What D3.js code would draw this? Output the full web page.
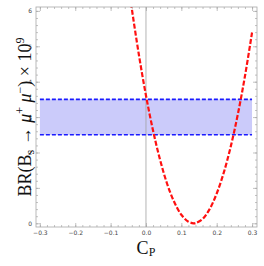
<!DOCTYPE html>
<html>
<head>
<meta charset="utf-8">
<script src="https://cdn.jsdelivr.net/npm/d3@7"></script>
<style>
  body { margin: 0; background: #fff; }
  svg { display: block; }
  .tick text { font-family: "DejaVu Sans", sans-serif; font-size: 6px; fill: #444; }
</style>
</head>
<body>
<div id="chart"></div>
<script>
// ---------------- data ----------------
var cpValues = [-0.045, -0.04, -0.02, 0.0, 0.02, 0.04, 0.06, 0.08, 0.10, 0.12, 0.135, 0.14, 0.16, 0.18, 0.20, 0.22, 0.24, 0.26, 0.28, 0.30];
var brValues = [6.42, 6.06, 4.76, 3.61, 2.62, 1.79, 1.11, 0.60, 0.24, 0.045, 0.0, 0.005, 0.12, 0.40, 0.84, 1.43, 2.18, 3.09, 4.16, 5.39];
var bandRange = [2.5, 3.5];
var bandCp = [-0.3, 0.3];
var xTicks = [-0.3, -0.2, -0.1, 0.0, 0.1, 0.2, 0.3];
var yTicks = [0, 1, 2, 3, 4, 5, 6];

//------------------------- SVG ------------------------------//
const width = 264;
const height = 266;
const pLeft = 36, pRight = 257, pTop = 7, pBottom = 227;

const svg = d3.select("#chart").append("svg")
    .attr("width", width)
    .attr("height", height);

const xScale = d3.scaleLinear().domain([-0.311, 0.314]).range([pLeft, pRight]);
const yScale = d3.scaleLinear().domain([-0.105, 6.11]).range([pBottom, pTop]);

svg.append("defs").append("clipPath").attr("id", "plot")
    .append("rect")
    .attr("x", pLeft).attr("y", pTop)
    .attr("width", pRight - pLeft).attr("height", pBottom - pTop);

const plot = svg.append("g").attr("clip-path", "url(#plot)");

//------------------------- BAND -----------------------------//
plot.append("rect")
    .attr("x", xScale(bandCp[0]))
    .attr("y", yScale(bandRange[1]))
    .attr("width", xScale(bandCp[1]) - xScale(bandCp[0]))
    .attr("height", yScale(bandRange[0]) - yScale(bandRange[1]))
    .attr("fill", "#cbcbfa");

// vertical axis line at C_P = 0
plot.append("line")
    .attr("x1", xScale(0)).attr("x2", xScale(0))
    .attr("y1", pTop).attr("y2", pBottom)
    .attr("stroke", "#a0a0a0")
    .attr("stroke-width", 0.8);

bandRange.forEach(function(v){
    plot.append("line")
        .attr("x1", xScale(bandCp[0])).attr("x2", xScale(bandCp[1]))
        .attr("y1", yScale(v)).attr("y2", yScale(v))
        .attr("stroke", "#1a1aff")
        .attr("stroke-width", 1.6)
        .attr("stroke-dasharray", "4,2");
});

//------------------------- CURVE ----------------------------//
const pts = cpValues.map(function(c, i){ return [c, brValues[i]]; });
const line = d3.line()
    .x(function(d){ return xScale(d[0]); })
    .y(function(d){ return yScale(d[1]); })
    .curve(d3.curveCatmullRom);

plot.append("path")
    .attr("fill", "none")
    .attr("stroke", "#ff1010")
    .attr("stroke-width", 2.2)
    .attr("stroke-dasharray", "5,2")
    .attr("d", line(pts));

//------------------------- FRAME ----------------------------//
function minor(lo, hi, step){
    var out = [];
    for (var v = lo; v <= hi + 1e-9; v += step) out.push(+v.toFixed(4));
    return out;
}
const xMinor = minor(-0.3, 0.3, 0.02);
const yMinor = minor(0, 6, 0.2);

const axisColor = "#a8a8a8";
function styleAxis(g){
    g.select(".domain").remove();
    g.selectAll(".tick line").attr("stroke", axisColor).attr("stroke-width", 0.7);
}

// major ticks w/ labels
svg.append("g").attr("transform", "translate(0," + pBottom + ")")
    .call(d3.axisBottom(xScale).tickValues(xTicks).tickSize(-4).tickPadding(4)
        .tickFormat(function(d){ return d.toFixed(1).replace("-", "\u2212"); }))
    .call(styleAxis);
svg.append("g").attr("transform", "translate(" + pLeft + ",0)")
    .call(d3.axisLeft(yScale).tickValues(yTicks).tickSize(-4).tickPadding(4)
        .tickFormat(d3.format("d")))
    .call(styleAxis);
svg.append("g").attr("transform", "translate(0," + pTop + ")")
    .call(d3.axisTop(xScale).tickValues(xTicks).tickSize(-4).tickFormat(""))
    .call(styleAxis);
svg.append("g").attr("transform", "translate(" + pRight + ",0)")
    .call(d3.axisRight(yScale).tickValues(yTicks).tickSize(-4).tickFormat(""))
    .call(styleAxis);

// minor ticks
[[d3.axisBottom, pBottom, xMinor, xScale, true], [d3.axisTop, pTop, xMinor, xScale, true],
 [d3.axisLeft, pLeft, yMinor, yScale, false], [d3.axisRight, pRight, yMinor, yScale, false]].forEach(function(a){
    svg.append("g")
        .attr("transform", a[4] ? "translate(0," + a[1] + ")" : "translate(" + a[1] + ",0)")
        .call(a[0](a[3]).tickValues(a[2]).tickSize(-2).tickFormat(""))
        .call(styleAxis);
});

svg.append("rect")
    .attr("x", pLeft).attr("y", pTop)
    .attr("width", pRight - pLeft).attr("height", pBottom - pTop)
    .attr("fill", "none")
    .attr("stroke", axisColor)
    .attr("stroke-width", 0.8);

//------------------------- LABELS ---------------------------//
const serif = "'Liberation Serif', 'DejaVu Serif', serif";

const xl = svg.append("text")
    .attr("x", xScale(0)).attr("y", 254)
    .attr("text-anchor", "middle")
    .attr("font-family", serif)
    .attr("font-size", 18)
    .attr("fill", "#111");
xl.append("tspan").text("C");
xl.append("tspan").attr("font-size", 12).attr("dy", 2).text("P");

const yl = svg.append("text")
    .attr("transform", "translate(31," + (pTop + pBottom) / 2 + ") rotate(-90)")
    .attr("text-anchor", "middle")
    .attr("font-family", serif)
    .attr("font-size", 18)
    .attr("fill", "#111");
yl.append("tspan").text("BR(B");
yl.append("tspan").attr("font-size", 12).attr("dy", 3).text("s");
yl.append("tspan").attr("dy", -3).text(" \u2192 ");
yl.append("tspan").attr("font-style", "italic").text("\u03bc");
yl.append("tspan").attr("font-size", 12).attr("dy", -7).text("+");
yl.append("tspan").attr("dy", 7).attr("font-style", "italic").text(" \u03bc");
yl.append("tspan").attr("font-size", 12).attr("dy", -7).text("\u2212");
yl.append("tspan").attr("dy", 7).text(") \u00d7 10");
yl.append("tspan").attr("font-size", 12).attr("dy", -7).text("9");
</script>
</body>
</html>
